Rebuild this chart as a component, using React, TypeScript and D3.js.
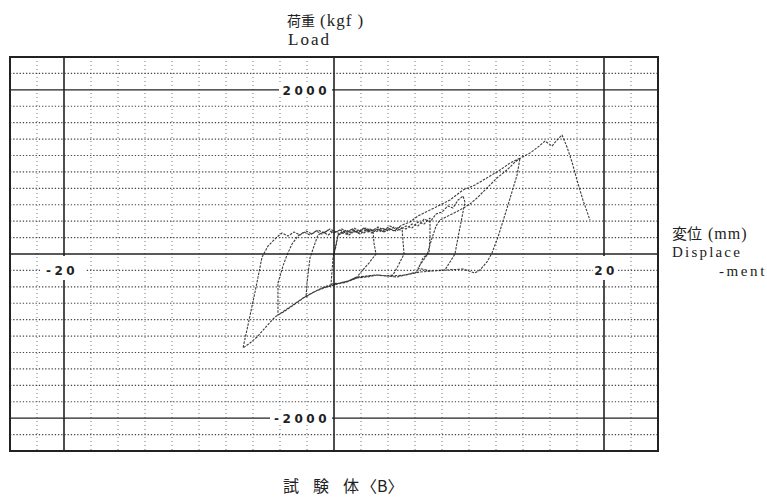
import React from "react";
import * as d3 from "d3";

const width = 767;
const height = 502;

// axis extents and grid (mm, kgf)
const dispDomain = [-24, 24];
const loadDomain = [-2400, 2400];
const dispMajor = [-20, 0, 20];
const loadMajor = [-2000, 0, 2000];
const dispMinor = [-22, -18, -16, -14, -12, -10, -8, -6, -4, -2, 2, 4, 6, 8, 10, 12, 14, 16, 18, 22];
const loadMinor = [-2200, -1800, -1600, -1400, -1200, -1000, -800, -600, -400, -200,
  200, 400, 600, 800, 1000, 1200, 1400, 1600, 1800, 2200];
const dispLabels = [-20, 20];
const loadLabels = [2000, -2000];

// load-displacement record, one array per loading cycle [mm, kgf]
const cycle1: [number, number][] = [
  [0, 0], [0.15, 122], [0.3, 231], [0.67, 280], [1.04, 244], [1.41, 292], [1.78, 256],
  [2.15, 305], [2.52, 268], [2.89, 292], [2.96, 134], [3.11, 0], [2.59, -110], [2.07, -207],
  [1.7, -280], [1.04, -329], [0.44, -353], [-0.22, -365], [-0.15, -219], [-0.07, -37],
  [0.15, 97], [0.3, 231],
];
const cycle2: [number, number][] = [
  [0.67, 256], [1.11, 231], [1.48, 280], [1.93, 244], [2.37, 292], [2.81, 256], [3.26, 305],
  [3.7, 268], [4.15, 305], [4.59, 280], [5.04, 317], [5.11, 158], [5.19, 0], [4.74, -146],
  [4.37, -256], [3.78, -268], [3.19, -256], [2.44, -268], [1.7, -280], [1.04, -329],
  [0.44, -353], [-0.52, -390], [-1.19, -438], [-1.78, -487], [-2.07, -524], [-2.0, -353],
  [-1.78, -49], [-1.48, 97], [-1.19, 231],
];
const cycle3: [number, number][] = [
  [-0.81, 268], [-0.44, 231], [0, 280], [0.44, 244], [0.89, 292], [1.33, 256], [1.78, 292],
  [2.22, 256], [2.67, 305], [3.11, 268], [3.56, 317], [4.0, 280], [4.44, 329], [4.89, 292],
  [5.33, 341], [5.78, 317], [6.22, 390], [6.67, 365], [7.11, 438], [7.11, 219], [7.04, 12],
  [6.59, -49], [6.15, -219], [5.26, -256], [4.67, -280], [3.93, -268], [3.19, -256],
  [2.44, -280], [1.7, -292], [0.96, -341], [0.3, -365], [-0.52, -402], [-1.33, -451],
  [-2.3, -536], [-3.04, -621], [-3.7, -694], [-4.15, -743], [-4.15, -560], [-4.15, -353],
  [-3.78, -146], [-3.48, -12], [-3.11, 122], [-2.67, 219],
];
const cycle4: [number, number][] = [
  [-2.22, 268], [-1.78, 231], [-1.33, 280], [-0.89, 244], [-0.44, 292], [0, 256], [0.44, 292],
  [0.89, 256], [1.33, 305], [1.78, 268], [2.22, 317], [2.67, 280], [3.11, 305], [3.56, 268],
  [4.0, 317], [4.44, 280], [4.89, 329], [5.33, 305], [5.78, 365], [6.22, 341], [6.67, 426],
  [7.11, 390], [7.56, 487], [8.0, 512], [8.44, 585], [8.81, 560], [9.19, 658], [9.56, 706],
  [9.7, 633], [9.41, 390], [9.19, 207], [8.96, 0], [8.59, -97], [8.22, -195], [7.48, -207],
  [6.37, -219], [5.26, -256], [4.15, -268], [3.04, -256], [1.93, -280], [0.81, -341],
  [-0.3, -378], [-1.19, -438], [-2.15, -524], [-2.89, -609], [-3.63, -694], [-4.37, -767],
  [-5.11, -901], [-5.7, -1011], [-6.22, -1084], [-6.74, -1145], [-6.37, -865], [-5.85, -463],
  [-5.33, -37], [-4.89, 97], [-4.22, 207],
];
const cycle5: [number, number][] = [
  [-3.85, 256], [-3.41, 219], [-2.96, 268], [-2.52, 231], [-2.07, 280], [-1.63, 244],
  [-1.19, 292], [-0.74, 256], [-0.3, 305], [0.15, 268], [0.59, 305], [1.04, 268], [1.48, 317],
  [1.93, 280], [2.37, 317], [2.81, 280], [3.26, 329], [3.7, 292], [4.15, 341], [4.59, 305],
  [5.04, 353], [5.63, 390], [6.22, 463], [6.81, 512], [7.41, 560], [8.0, 609], [8.59, 658],
  [9.56, 780], [10.44, 840], [11.56, 950], [12.3, 1023], [13.04, 1108], [13.78, 1169],
  [13.56, 962], [12.89, 597], [12.15, 207], [11.7, 12], [11.33, -97], [10.81, -195],
  [10.44, -231], [9.56, -183], [8.37, -195], [7.11, -207], [6.22, -171],
];
const cycle6: [number, number][] = [
  [6.89, -12], [7.26, 195], [7.56, 341], [7.85, 414], [8.59, 475], [9.33, 536], [10.07, 609],
  [10.59, 682], [11.33, 804], [12.07, 926], [12.81, 1023], [13.41, 1121], [13.93, 1181],
  [14.52, 1230], [15.11, 1303], [15.63, 1376], [16.15, 1315], [16.52, 1389], [16.89, 1449],
  [17.26, 1303], [17.63, 1121], [18.0, 901], [18.44, 658], [18.96, 414],
];

const cycles = [cycle1, cycle2, cycle3, cycle4, cycle5, cycle6];

// caption pieces, laid out with wide gaps as on the original sheet
const caption = ["試", "験", "体", "〈B〉"];
const captionX = [283, 313, 343, 361];

const serif = "'Liberation Serif', 'DejaVu Serif', 'Noto Sans CJK JP', serif";
const cjk = "'Noto Sans CJK JP', sans-serif";
const tickFont = "'DejaVu Sans', sans-serif";

export default function App() {
  const x = d3.scaleLinear().domain(dispDomain).range([10, 658]);
  const y = d3.scaleLinear().domain(loadDomain).range([451, 57]);

  const line = d3
    .line<[number, number]>()
    .x((d) => x(d[0]))
    .y((d) => y(d[1]));

  const record = cycles.flat();

  return (
    <svg
      width={width}
      height={height}
      style={{ position: "absolute", left: 0, top: 0, background: "#fff" }}
    >
      {/* dotted grid */}
      {dispMinor.map((d) => (
        <line key={"vx" + d} x1={x(d)} x2={x(d)} y1={y(2400)} y2={y(-2400)}
          stroke="#777" strokeWidth={1} strokeDasharray="1 3" />
      ))}
      {loadMinor.map((d) => (
        <line key={"hy" + d} x1={x(-24)} x2={x(24)} y1={y(d)} y2={y(d)}
          stroke="#444" strokeWidth={1.1} strokeDasharray="1.3 1.9" />
      ))}

      {/* solid grid */}
      {dispMajor.map((d) => (
        <line key={"VX" + d} x1={x(d)} x2={x(d)} y1={y(2400)} y2={y(-2400)}
          stroke="#222" strokeWidth={1.6} />
      ))}
      {loadMajor.map((d) => (
        <line key={"HY" + d} x1={x(-24)} x2={x(24)} y1={y(d)} y2={y(d)}
          stroke="#222" strokeWidth={1.4} />
      ))}

      {/* the record */}
      <path d={line(record) ?? ""} fill="none" stroke="#1a1a1a" strokeWidth={1.1}
        strokeDasharray="2.5 1.2" strokeLinejoin="round" opacity={0.85} />

      {/* frame */}
      <rect x={x(-24)} y={y(2400)} width={x(24) - x(-24)} height={y(-2400) - y(2400)}
        fill="none" stroke="#222" strokeWidth={2} />

      {/* load tick labels on the zero axis */}
      {loadLabels.map((d) => (
        <g key={"ll" + d}>
          <rect x={x(0) - (d < 0 ? 64 : 55)} y={y(d) - 7} width={d < 0 ? 62 : 53} height={14} fill="#fff" />
          <text x={x(0) - 4} y={y(d) + 5} textAnchor="end" fontFamily={tickFont}
            fontWeight="bold" fontSize={12} letterSpacing={3.5} fill="#222">
            {d < 0 ? "-" + Math.abs(d) : d}
          </text>
        </g>
      ))}

      {/* displacement tick labels under the zero axis */}
      {dispLabels.map((d) => (
        <g key={"dl" + d}>
          <rect x={x(d) - (d < 0 ? 24 : 11)} y={y(0) + 2} width={d < 0 ? 46 : 25} height={24} fill="#fff" />
          <text x={x(d) + (d < 0 ? -2 : 2)} y={y(0) + 21} textAnchor="middle" fontFamily={tickFont}
            fontWeight="bold" fontSize={12} letterSpacing={3.5} fill="#222">
            {d < 0 ? "-" + Math.abs(d) : d}
          </text>
        </g>
      ))}

      {/* axis titles */}
      <text x={287} y={26} fill="#222">
        <tspan fontFamily={cjk} fontSize={14}>荷重</tspan>
        <tspan fontFamily={serif} fontSize={17} letterSpacing={1} dx={5}>(kgf )</tspan>
      </text>
      <text x={288} y={45} fontFamily={serif} fontSize={17} letterSpacing={2} fill="#222">Load</text>
      <text x={672} y={239} fill="#222">
        <tspan fontFamily={cjk} fontSize={15}>変位</tspan>
        <tspan fontFamily={serif} fontSize={16} letterSpacing={1} dx={6}>(mm)</tspan>
      </text>
      <text x={672} y={257} fontFamily={serif} fontSize={15} letterSpacing={2.2} fill="#222">Displace</text>
      <text x={767} y={276} textAnchor="end" fontFamily={serif} fontSize={15} letterSpacing={2.6} fill="#222">-ment</text>

      {/* specimen caption */}
      {caption.map((c, i) => (
        <text key={c} x={captionX[i]} y={492} fill="#222" fontFamily={cjk} fontSize={16}>{c}</text>
      ))}
    </svg>
  );
}
